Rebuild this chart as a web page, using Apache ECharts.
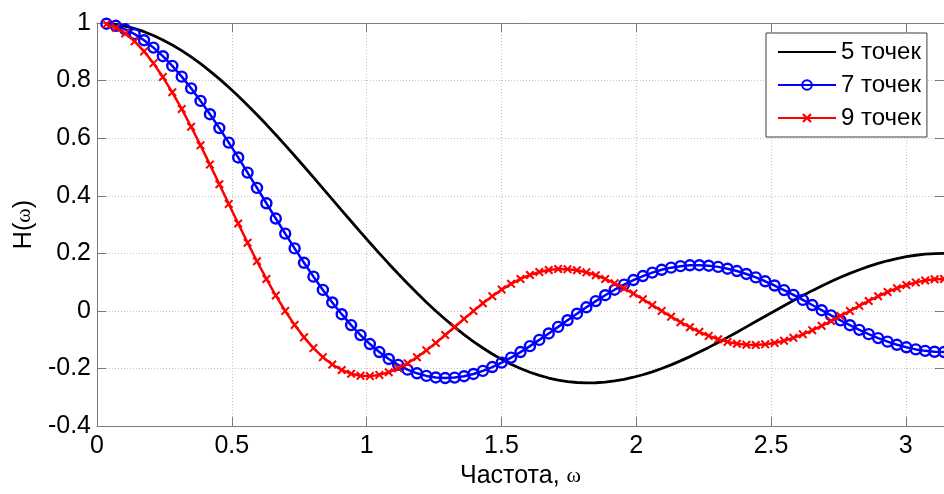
<!DOCTYPE html>
<html>
<head>
<meta charset="utf-8">
<script src="https://cdn.jsdelivr.net/npm/echarts@6/dist/echarts.min.js"></script>
<style>
  html, body { margin: 0; padding: 0; background: #fff; }
  #chart { width: 944px; height: 494px; }
</style>
</head>
<body>
<div id="chart"></div>
<script>
// Frequency grid, rad (2-degree steps up to pi)
const omega = [
  0.0349, 0.0698, 0.1047, 0.1396, 0.1745, 0.2094, 0.2443, 0.2793, 0.3142, 0.3491,
  0.3840, 0.4189, 0.4538, 0.4887, 0.5236, 0.5585, 0.5934, 0.6283, 0.6632, 0.6981,
  0.7330, 0.7679, 0.8029, 0.8378, 0.8727, 0.9076, 0.9425, 0.9774, 1.0123, 1.0472,
  1.0821, 1.1170, 1.1519, 1.1868, 1.2217, 1.2566, 1.2915, 1.3265, 1.3614, 1.3963,
  1.4312, 1.4661, 1.5010, 1.5359, 1.5708, 1.6057, 1.6406, 1.6755, 1.7104, 1.7453,
  1.7802, 1.8151, 1.8500, 1.8850, 1.9199, 1.9548, 1.9897, 2.0246, 2.0595, 2.0944,
  2.1293, 2.1642, 2.1991, 2.2340, 2.2689, 2.3038, 2.3387, 2.3736, 2.4086, 2.4435,
  2.4784, 2.5133, 2.5482, 2.5831, 2.6180, 2.6529, 2.6878, 2.7227, 2.7576, 2.7925,
  2.8274, 2.8623, 2.8972, 2.9322, 2.9671, 3.0020, 3.0369, 3.0718, 3.1067, 3.1416
];

// Moving-average response, 5 points
const h5 = [
  0.9988, 0.9952, 0.9890, 0.9806, 0.9698, 0.9566, 0.9413, 0.9237, 0.9040, 0.8823,
  0.8586, 0.8330, 0.8058, 0.7768, 0.7464, 0.7146, 0.6814, 0.6472, 0.6120, 0.5758,
  0.5390, 0.5017, 0.4639, 0.4258, 0.3877, 0.3495, 0.3115, 0.2738, 0.2366, 0.2000,
  0.1641, 0.1291, 0.0950, 0.0621, 0.0304, 0.0000, -0.0290, -0.0564, -0.0822, -0.1064,
  -0.1288, -0.1494, -0.1682, -0.1851, -0.2000, -0.2130, -0.2240, -0.2330, -0.2402, -0.2453,
  -0.2486, -0.2499, -0.2494, -0.2472, -0.2432, -0.2376, -0.2303, -0.2216, -0.2115, -0.2000,
  -0.1873, -0.1735, -0.1587, -0.1430, -0.1266, -0.1094, -0.0918, -0.0738, -0.0554, -0.0370,
  -0.0184, 0.0000, 0.0182, 0.0362, 0.0536, 0.0705, 0.0868, 0.1022, 0.1168, 0.1305,
  0.1432, 0.1547, 0.1650, 0.1742, 0.1820, 0.1884, 0.1934, 0.1971, 0.1993, 0.2000
];

// Moving-average response, 7 points
const h7 = [
  0.9976, 0.9903, 0.9782, 0.9615, 0.9401, 0.9145, 0.8847, 0.8510, 0.8137, 0.7731,
  0.7295, 0.6833, 0.6350, 0.5847, 0.5331, 0.4805, 0.4273, 0.3740, 0.3209, 0.2685,
  0.2171, 0.1672, 0.1191, 0.0730, 0.0295, -0.0113, -0.0492, -0.0839, -0.1151, -0.1429,
  -0.1669, -0.1873, -0.2039, -0.2166, -0.2257, -0.2311, -0.2330, -0.2315, -0.2267, -0.2189,
  -0.2082, -0.1950, -0.1795, -0.1621, -0.1429, -0.1223, -0.1006, -0.0782, -0.0554, -0.0324,
  -0.0096, 0.0127, 0.0341, 0.0546, 0.0737, 0.0913, 0.1072, 0.1211, 0.1331, 0.1429,
  0.1503, 0.1555, 0.1584, 0.1588, 0.1570, 0.1530, 0.1467, 0.1385, 0.1283, 0.1165,
  0.1030, 0.0883, 0.0724, 0.0557, 0.0383, 0.0205, 0.0026, -0.0153, -0.0327, -0.0496,
  -0.0657, -0.0807, -0.0944, -0.1067, -0.1175, -0.1264, -0.1336, -0.1387, -0.1418, -0.1429
];

// Moving-average response, 9 points
const h9 = [
  0.9960, 0.9838, 0.9638, 0.9362, 0.9014, 0.8599, 0.8123, 0.7593, 0.7015, 0.6398,
  0.5751, 0.5082, 0.4401, 0.3716, 0.3036, 0.2369, 0.1725, 0.1111, 0.0534, 0.0000,
  -0.0485, -0.0917, -0.1291, -0.1606, -0.1859, -0.2050, -0.2181, -0.2251, -0.2264, -0.2222,
  -0.2131, -0.1994, -0.1818, -0.1607, -0.1370, -0.1111, -0.0838, -0.0558, -0.0276, 0.0000,
  0.0265, 0.0513, 0.0740, 0.0940, 0.1111, 0.1250, 0.1354, 0.1422, 0.1454, 0.1450,
  0.1412, 0.1341, 0.1240, 0.1111, 0.0959, 0.0788, 0.0602, 0.0405, 0.0203, 0.0000,
  -0.0199, -0.0389, -0.0566, -0.0727, -0.0867, -0.0984, -0.1076, -0.1140, -0.1175, -0.1182,
  -0.1161, -0.1111, -0.1035, -0.0935, -0.0813, -0.0673, -0.0518, -0.0351, -0.0177, 0.0000,
  0.0176, 0.0347, 0.0508, 0.0657, 0.0789, 0.0901, 0.0991, 0.1058, 0.1098, 0.1111
];

const seriesNames = ['5 точек', '7 точек', '9 точек'];

const FONT = '"Liberation Sans", Arial, sans-serif';
const SERIF = '"Liberation Serif", "DejaVu Serif", serif';
const AXIS_GRAY = '#7a7a7a';
const GRID_GRAY = '#c4c4c4';
const CROSS = 'path://M0,1.6L1.6,0L5,3.4L8.4,0L10,1.6L6.6,5L10,8.4L8.4,10L5,6.6L1.6,10L0,8.4L3.4,5Z';

const pairs = ys => omega.map((w, i) => [w, ys[i]]);

const chart = echarts.init(document.getElementById('chart'), null, { renderer: 'canvas' });

const frameAxis = {
  min: 0,
  axisLine: { show: true, lineStyle: { color: AXIS_GRAY, width: 1 } },
  axisTick: { show: true, inside: true, length: 9, lineStyle: { color: AXIS_GRAY } },
  splitLine: { show: false },
  axisLabel: { show: false }
};

chart.setOption({
  animation: false,
  backgroundColor: '#fff',
  grid: { left: 97, top: 23, width: 855, height: 407, containLabel: false },
  legend: {
    data: [
      { name: seriesNames[0], itemStyle: { opacity: 0 } },
      { name: seriesNames[1] },
      { name: seriesNames[2] }
    ],
    orient: 'vertical',
    left: 766,
    top: 33,
    padding: [7, 6, 7, 11],
    itemGap: 9,
    itemWidth: 58,
    itemHeight: 12,
    backgroundColor: '#fff',
    borderColor: '#3c3c3c',
    borderWidth: 1,
    borderRadius: 0,
    textStyle: { fontFamily: FONT, fontSize: 24, color: '#000', padding: [0, 0, 0, 0] }
  },
  xAxis: [
    {
      type: 'value',
      position: 'bottom',
      min: 0,
      max: 3.1416,
      interval: 0.5,
      axisLine: { show: true, onZero: false, lineStyle: { color: AXIS_GRAY, width: 1 } },
      axisTick: { show: true, inside: true, length: 9, lineStyle: { color: AXIS_GRAY } },
      axisLabel: {
        show: true, margin: 8, color: '#000', fontFamily: FONT, fontSize: 25,
        showMaxLabel: false
      },
      splitLine: { show: true, lineStyle: { color: GRID_GRAY, type: [1, 2], width: 1 } },
      name: 'Частота, {w|ω}',
      nameLocation: 'middle',
      nameGap: 34,
      nameTextStyle: {
        fontFamily: FONT, fontSize: 25, color: '#000',
        rich: { w: { fontFamily: SERIF, fontSize: 22, color: '#000' } }
      }
    },
    Object.assign({}, frameAxis, {
      type: 'value', position: 'top', max: 3.1416, interval: 0.5,
      axisLine: { show: true, onZero: false, lineStyle: { color: AXIS_GRAY, width: 1 } }
    })
  ],
  yAxis: [
    {
      type: 'value',
      position: 'left',
      min: -0.4,
      max: 1,
      interval: 0.2,
      axisLine: { show: true, onZero: false, lineStyle: { color: AXIS_GRAY, width: 1 } },
      axisTick: { show: true, inside: true, length: 9, lineStyle: { color: AXIS_GRAY } },
      axisLabel: { show: true, margin: 6, color: '#000', fontFamily: FONT, fontSize: 25 },
      splitLine: { show: true, lineStyle: { color: GRID_GRAY, type: [1, 2], width: 1 } },
      name: 'H({w|ω})',
      nameLocation: 'middle',
      nameRotate: 90,
      nameGap: 60,
      nameTextStyle: {
        fontFamily: FONT, fontSize: 25, color: '#000',
        rich: { w: { fontFamily: SERIF, fontSize: 22, color: '#000' } }
      }
    },
    Object.assign({}, frameAxis, {
      type: 'value', position: 'right', min: -0.4, max: 1, interval: 0.2,
      axisLine: { show: true, onZero: false, lineStyle: { color: AXIS_GRAY, width: 1 } }
    })
  ],
  series: [
    {
      name: seriesNames[0],
      type: 'line',
      data: pairs(h5),
      showSymbol: false,
      symbol: 'none',
      lineStyle: { color: '#000', width: 2.8 },
      itemStyle: { color: '#000' },
      z: 3
    },
    {
      name: seriesNames[1],
      type: 'line',
      data: pairs(h7),
      symbol: 'circle',
      symbolSize: 10,
      lineStyle: { color: '#0000ff', width: 2.5 },
      itemStyle: { color: 'rgba(0,0,0,0)', borderColor: '#0000ff', borderWidth: 2.4 },
      z: 4
    },
    {
      name: seriesNames[2],
      type: 'line',
      data: pairs(h9),
      symbol: CROSS,
      symbolSize: 9,
      lineStyle: { color: '#ff0000', width: 2.5 },
      itemStyle: { color: '#ff0000' },
      z: 5
    }
  ]
});
</script>
</body>
</html>
